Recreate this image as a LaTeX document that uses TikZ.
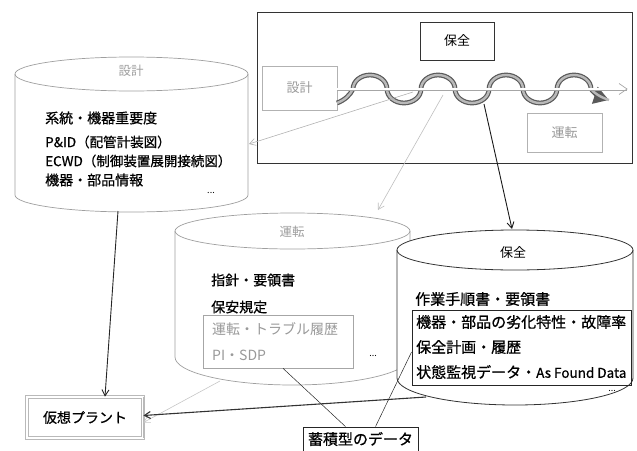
\documentclass[tikz,border=0pt]{standalone}
\usepackage{fontspec}
\setmainfont{Noto Sans CJK JP}
\newfontfamily\jpm{Noto Sans CJK JP}[FakeBold=0.7]
\usetikzlibrary{arrows.meta}
\begin{document}
\begin{tikzpicture}[x=1pt,y=-1pt,
  cylsty/.style={draw=gray!75, line width=0.7pt, fill=white},
  cylsty2/.style={draw=black!80, line width=0.8pt, fill=white},
  txt/.style={font=\jpm\fontsize{14}{16}\selectfont, anchor=west, inner sep=0pt},
  txtb/.style={font=\jpm\fontsize{15}{17}\selectfont, anchor=west, inner sep=0pt},
  graytxt/.style={font=\fontsize{14}{16}\selectfont, anchor=west, inner sep=0pt, text=gray!80},
  lbl/.style={font=\fontsize{12.5}{14}\selectfont, text=gray!75, inner sep=0pt},
  dots/.style={font=\fontsize{9}{10}\selectfont, inner sep=0pt},
  boxk/.style={draw=black!80, line width=0.8pt, fill=white},
  boxg/.style={draw=gray!60, line width=0.8pt, fill=white},
  tip/.style={-{Straight Barb[length=6pt,width=7pt]}},
]
\useasboundingbox (0,0) rectangle (637,450);

% ---------------- frame with wave ----------------
\node[draw=black!80, line width=0.9pt, minimum width=375pt, minimum height=151pt, inner sep=0pt] (frame) at (444.5,87.5) {};
\node[boxk, minimum width=74pt, minimum height=38pt, inner sep=0pt, font=\fontsize{13}{15}\selectfont] (hz) at (457,41) {保全};
\node[boxg, minimum width=75pt, minimum height=44pt, inner sep=0pt, font=\fontsize{13}{15}\selectfont, text=gray!80] (sb) at (299.5,88) {設計};
\node[boxg, minimum width=75pt, minimum height=39pt, inner sep=0pt, font=\fontsize{13}{15}\selectfont, text=gray!80] (ub) at (564.5,132.5) {運転};

\coordinate (ws) at (337,103);
\coordinate (we) at (609,100);
\coordinate (le) at (627,89);
% wave (tube)
\def\wavepath{(ws) .. controls (345,100) and (350,95) .. (353,89)
  arc[start angle=180,end angle=360,x radius=17,y radius=14]
  arc[start angle=180,end angle=0,x radius=17,y radius=14]
  arc[start angle=180,end angle=360,x radius=17,y radius=14]
  arc[start angle=180,end angle=0,x radius=17,y radius=14]
  arc[start angle=180,end angle=360,x radius=17,y radius=14]
  arc[start angle=180,end angle=0,x radius=17,y radius=14]
  arc[start angle=180,end angle=360,x radius=17,y radius=14]
  .. controls (594,93) and (600,97) .. (we)}
\draw[line width=4.8pt, black!65, -{Triangle[length=15pt,width=17pt]}] \wavepath;
\draw[line width=2.4pt, gray!55] \wavepath;
% horizontal double line
\draw[draw=gray!70, line width=0.6pt, double=white, double distance=1.8pt] (sb.east |- 0,89) -- (le);
\draw[gray!70, line width=0.7pt] (619,83.5) -- (le) -- (619,94.5);

% ---------------- 設計 cylinder ----------------
\draw[cylsty] (15,74) arc[start angle=180,end angle=360,x radius=116.5,y radius=17]
  -- (248,195) arc[start angle=0,end angle=180,x radius=116.5,y radius=17] -- cycle;
\draw[cylsty, fill=none] (15,74) arc[start angle=180,end angle=0,x radius=116.5,y radius=17];
\node[lbl] (sl) at (131,71) {設計};
\node[txt] (s1) at (45,118) {系統・機器重要度};
\node[txt, font=\jpm\fontsize{13.5}{15}\selectfont] (s2) at (45,142) {P\&ID（配管計装図）};
\node[txt, font=\jpm\fontsize{13.5}{15}\selectfont] (s3) at (45,161) {ECWD（制御装置展開接続図）};
\node[txt] (s4) at (45,180) {機器・部品情報};
\node[dots] (sd) at (211,193) {...};
\coordinate (skr) at (249,144);
\coordinate (skb) at (118,211);

% ---------------- 運転 cylinder ----------------
\draw[cylsty] (175,231) arc[start angle=180,end angle=360,x radius=117.5,y radius=18]
  -- (410,357) arc[start angle=0,end angle=180,x radius=117.5,y radius=28] -- cycle;
\draw[cylsty, fill=none] (175,231) arc[start angle=180,end angle=0,x radius=117.5,y radius=18];
\node[lbl] (ul) at (292,232) {運転};
\node[txt] (u1) at (211,280) {指針・要領書};
\node[txt] (u2) at (211,307) {保安規定};
\node[draw=gray!70, line width=0.7pt, minimum width=150pt, minimum height=53pt, inner sep=0pt] (ubox) at (278,341.5) {};
\node[graytxt] (u3) at (212,329) {運転・トラブル履歴};
\node[graytxt] (u4) at (212,355) {PI・SDP};
\node[dots] (ud) at (373,356) {...};
\coordinate (ut) at (378,210);
\coordinate (ubt) at (220,381);

% ---------------- 保全 cylinder ----------------
\draw[cylsty2] (397,250) arc[start angle=180,end angle=360,x radius=118,y radius=20]
  -- (633,378) arc[start angle=0,end angle=180,x radius=118,y radius=27] -- cycle;
\draw[cylsty2, fill=none] (397,250) arc[start angle=180,end angle=0,x radius=118,y radius=20];
\node[font=\fontsize{13}{15}\selectfont, inner sep=0pt] (hl) at (513,253) {保全};
\node[txtb] (h1) at (415,299) {作業手順書・要領書};
\node[draw=black!85, line width=0.9pt, minimum width=219pt, minimum height=75pt, inner sep=0pt] (hbox) at (521.5,347.5) {};
\node[txtb] (h2) at (416,322) {機器・部品の劣化特性・故障率};
\node[txtb] (h3) at (416,347) {保全計画・履歴};
\node[txtb] (h4) at (416,372) {状態監視データ・\fontsize{13.5}{15}\selectfont As Found Data};
\node[dots] (hd) at (612,391) {...};
\coordinate (ht) at (512,229);
\coordinate (hbt) at (426,397);

% ---------------- bottom boxes ----------------
\node[draw=gray!55, line width=0.8pt, double=white, double distance=1.5pt, fill=white,
  minimum width=116pt, minimum height=41pt, inner sep=0pt, font=\jpm\fontsize{14}{16}\selectfont] (vp) at (85,417.5) {仮想プラント};
\draw[gray!55, line width=1.6pt] (vp.north east) -- (vp.south east);
\node[draw=black!85, line width=0.8pt, fill=white, minimum width=115pt, minimum height=24pt,
  inner sep=0pt, font=\jpm\fontsize{15}{17}\selectfont] (acc) at (360.5,439) {蓄積型のデータ};

% ---------------- connectors ----------------
\coordinate (g1) at (413,92);
\coordinate (g2) at (443,95);
\coordinate (b1) at (484,104);
\draw[gray!60, line width=0.6pt, tip] (g1) -- (skr);
\draw[gray!50, line width=0.6pt, tip] (g2) -- (ut);
\draw[black!90, line width=0.9pt, tip] (b1) -- (ht);
\draw[black!85, line width=0.9pt, tip] (skb) -- (vp.north -| 105,0);
\draw[gray!45, line width=0.6pt, tip] (ubt) -- ([yshift=-5pt]vp.east);
\draw[black!80, line width=1.1pt, tip] (hbt) -- ([yshift=2pt]vp.east);
\draw[black!85, line width=0.5pt] ([xshift=-15pt]acc.north) -- (ubox.south -| 283,0);
\draw[black!85, line width=0.5pt] ([xshift=15pt]acc.north) -- (hbox.west |- 0,352);
\end{tikzpicture}
\end{document}
